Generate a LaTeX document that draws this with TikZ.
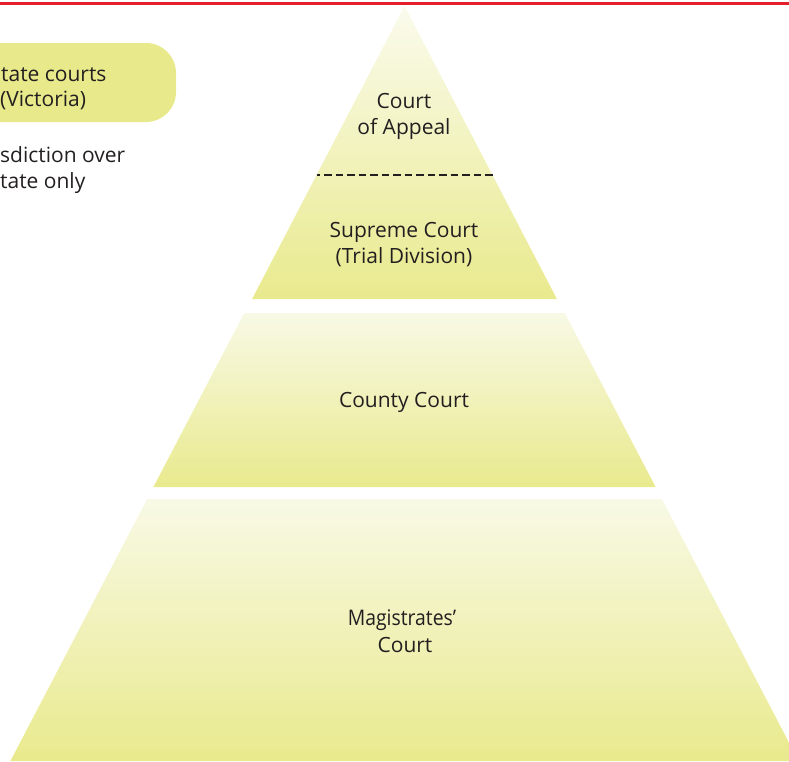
\documentclass[tikz,border=0pt]{standalone}
\usepackage{fontspec}
\setmainfont{Open Sans}
\newfontfamily\condfont[FakeStretch=0.9]{Open Sans}
\definecolor{txt}{HTML}{231F20}
\definecolor{bandtop}{HTML}{F8F9E5}
\definecolor{bandbot}{HTML}{E9EA8D}
\definecolor{boxfill}{HTML}{E7E98A}
\definecolor{redline}{HTML}{E41E2B}
\tikzset{
  band/.style={top color=bandtop, bottom color=bandbot, draw=none},
  lbl/.style={text=txt, font=\fontsize{21}{26}\selectfont, inner sep=0pt, anchor=base},
  lbll/.style={text=txt, font=\fontsize{21}{26}\selectfont, inner sep=0pt, anchor=base west},
}
\begin{document}
\begin{tikzpicture}[x=1pt, y=-1pt]
\useasboundingbox (0,0) rectangle (789,761);
\clip (0,0) rectangle (789,761);
% red rule
\draw[redline, line width=3pt] (0,3) -- (789,3);
% left box
\fill[boxfill, rounded corners=30pt] (-90,43) rectangle (176,122);
\node[lbll] (st1) at (1,81) {tate courts};
\node[lbll] (st2) at (0,106) {(Victoria)};
\node[lbll] (jd1) at (0,162) {sdiction over};
\node[lbll] (jd2) at (0,188) {tate only};
% pyramid bands (apex 404.5,6; slope 0.522)
\shade[band, top color=bandtop!70!white] (404.5,6) -- (556.9,299) -- (252.1,299) -- cycle;
\shade[band] (244.3,313) -- (564.7,313) -- (655.6,487) -- (153.4,487) -- cycle;
\shade[band] (147.2,499) -- (661.8,499) -- (798.6,761) -- (10.4,761) -- cycle;
% dashed division
\coordinate (dl) at (316.5,175);
\coordinate (dr) at (492.5,175);
\draw[txt, line width=2.4pt, dash pattern=on 7.5pt off 4pt, dash phase=4pt] (dl) -- (dr);
% labels
\node[lbl] (ca1) at (404,108) {Court};
\node[lbl] (ca2) at (404,134) {of Appeal};
\node[lbl] (sc1) at (404,237) {Supreme Court};
\node[lbl] (sc2) at (404,263) {(Trial Division)};
\node[lbl] (cc) at (404,407) {County Court};
\node[lbl, font=\condfont\fontsize{21.5}{26}\selectfont] (mc1) at (402,625) {Magistrates’};
\node[lbl] (mc2) at (405,652) {Court};
\end{tikzpicture}
\end{document}
